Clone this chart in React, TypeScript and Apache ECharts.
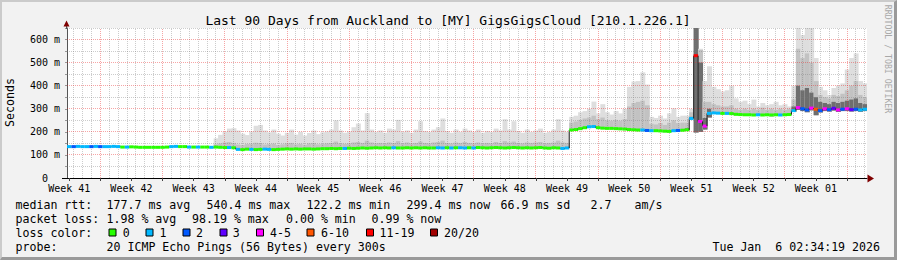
import React, { useEffect, useRef } from 'react';
import * as echarts from 'echarts';

const FONT = '"DejaVu Sans Mono", "Liberation Mono", monospace';
const BIN_DAYS = 0.5;
const TOTAL_DAYS = 90;
const Y_MAX = 650;
const Y_STEP = 50;
const FIRST_LABEL_DAY = 0.25;
const FIRST_WEEK_LINE = 3.75;
const FIRST_DAY_LINE = 0.75;

const weekLabels = ['Week 41', 'Week 42', 'Week 43', 'Week 44', 'Week 45', 'Week 46', 'Week 47',
  'Week 48', 'Week 49', 'Week 50', 'Week 51', 'Week 52', 'Week 01'];

const lossLabels = ['0', '1', '2', '3', '4-5', '6-10', '11-19', '20/20'];
const lossColors = ['#26ff00', '#00b8ff', '#0059ff', '#5e00ff', '#ff00ff', '#ff5500', '#ff0000', '#a10000'];

// median rtt (ms), one value per half-day bin (180 bins)
const median = [
  136, 136, 137, 136, 136, 136, 137, 136, 136, 136, 137, 136,
  134, 134, 135, 134,
  133, 133, 133, 133, 133, 133, 134,
  136, 137, 136, 136,
  134, 134, 134, 134, 134, 133, 134,
  133, 132, 132, 131,
  124, 123, 125, 124, 123, 124, 125, 124, 123, 124,
  125, 126, 125, 126, 125, 126, 126, 125, 126, 127,
  127, 128, 127, 128, 128, 129, 128, 129, 130, 129, 130, 131,
  130, 131, 130, 131, 130, 130, 131, 130, 131, 130, 131, 130, 130, 131, 130, 131, 130, 131, 131, 130,
  131, 130, 132, 131, 130, 131, 132, 131, 130, 131, 132, 131, 130, 131, 130, 131, 132, 130, 129, 131, 130, 128, 130,
  208, 210, 214, 218, 222, 223,
  218, 216, 215, 215, 214, 213, 212,
  210, 209, 208, 208, 206,
  205, 205, 204, 203, 202, 205, 206, 207,
  209, 258, 530, 245, 225, 280,
  282, 281, 280, 280, 279,
  276, 275, 274, 274, 273, 274, 273, 274, 273, 274, 273, 274, 275,
  292,
  305, 300, 295, 303, 298, 292, 300, 296, 302, 295, 298, 300, 296, 298, 295, 298,
];

// loss class index per bin (index into lossLabels / lossColors)
const lossClass = [
  1, 2, 1, 1, 1, 2, 1, 2, 1, 1, 1, 1,
  0, 1, 0, 0,
  0, 0, 0, 0, 0, 0, 0,
  1, 1, 0, 0,
  1, 0, 1, 0, 0, 1, 0,
  0, 0, 1, 0,
  1, 0, 0, 1, 0, 0, 1, 1, 0, 0,
  0, 0, 0, 0, 0, 0, 0, 0, 0, 0,
  0, 0, 0, 0, 1, 0, 0, 0, 0, 0, 0, 0,
  0, 0, 0, 1, 0, 0, 0, 0, 0, 0, 0, 0, 0, 1, 1, 0, 1, 0, 1, 1,
  0, 1, 0, 0, 0, 0, 0, 0, 0, 0, 0, 0, 0, 0, 0, 0, 0, 0, 0, 0, 0, 1, 1,
  0, 0, 0, 0, 1, 1,
  0, 0, 0, 0, 0, 0, 0,
  0, 0, 0, 1, 2,
  1, 0, 0, 0, 0, 1, 2, 0,
  0, 1, 6, 4, 4, 1,
  1, 1, 0, 1, 0,
  0, 0, 0, 0, 0, 1, 0, 0, 0, 0, 1, 0, 0,
  1,
  4, 2, 2, 4, 5, 2, 4, 2, 3, 4, 2, 4, 3, 2, 1, 1,
];

// smoke bottom (fastest ping) per bin
const smokeLow = [
  134, 134, 135, 134, 134, 134, 135, 134, 134, 134, 135, 134,
  132, 132, 133, 132,
  131, 131, 131, 131, 131, 131, 132,
  134, 135, 134, 134,
  132, 132, 132, 132, 132, 131, 132,
  131, 130, 130, 129,
  121, 120, 122, 121, 120, 121, 122, 121, 120, 121,
  122, 123, 122, 123, 122, 123, 123, 122, 123, 124,
  124, 125, 124, 125, 125, 126, 125, 126, 127, 126, 127, 128,
  127, 128, 127, 128, 127, 127, 128, 127, 128, 127, 128, 127, 127, 128, 127, 128, 127, 128, 128, 127,
  128, 127, 129, 128, 127, 128, 129, 128, 127, 128, 129, 128, 127, 128, 127, 128, 129, 127, 126, 128, 127, 125, 127,
  205, 207, 211, 215, 219, 220,
  215, 213, 212, 212, 211, 210, 209,
  205, 204, 203, 203, 201,
  202, 202, 201, 198, 198, 202, 203, 204,
  206, 255, 197, 200, 210, 262,
  278, 277, 276, 276, 275,
  272, 271, 270, 270, 269, 270, 269, 270, 266, 270, 269, 270, 271,
  286,
  295, 290, 285, 293, 272, 284, 290, 288, 292, 286, 290, 290, 288, 290, 287, 290,
];

// top of light smoke (slowest ping) per bin
const smokeHigh = [
  140, 140, 141, 140, 140, 140, 141, 140, 140, 140, 141, 140,
  138, 138, 139, 138,
  137, 137, 137, 137, 137, 137, 138,
  140, 141, 140, 140,
  138, 138, 138, 138, 138, 137, 172,
  187, 201, 214, 216,
  206, 192, 186, 202, 226, 230, 206, 198, 210, 192,
  184, 196, 210, 188, 200, 184, 195, 206, 190, 198,
  202, 210, 250, 206, 196, 202, 220, 236, 206, 281, 210, 200,
  206, 196, 214, 210, 252, 200, 206, 196, 210, 246, 204, 200, 210, 220, 258, 204, 196, 210, 200, 214,
  206, 200, 210, 196, 204, 200, 214, 206, 255, 210, 246, 204, 196, 210, 200, 206, 214, 196, 200, 210, 255, 206, 200,
  265, 270, 285, 290, 300, 331,
  280, 320, 285, 275, 290, 280, 300,
  395, 418, 420, 458, 405,
  265, 260, 270, 258, 280, 302, 265, 270,
  270, 300, 650, 560, 420, 484,
  395, 385, 375, 380, 400,
  345, 330, 335, 320, 340, 310, 325, 315, 320, 330, 315, 320, 310,
  400,
  650, 620, 650, 650, 520, 395, 380, 360, 390, 400, 410, 470, 520, 540, 420, 410,
];

// top of the medium-grey smoke band per bin
const smokeMid = [
  137, 137, 138, 137, 137, 137, 138, 137, 137, 137, 138, 137,
  135, 135, 136, 135,
  134, 134, 134, 134, 134, 134, 135,
  137, 138, 137, 137,
  135, 135, 135, 135, 135, 134, 146,
  150, 154, 156, 152,
  145, 143, 147, 149, 153, 151, 145, 147, 149, 143,
  146, 150, 152, 146, 148, 144, 150, 152, 146, 148,
  150, 152, 158, 150, 148, 150, 154, 156, 152, 162, 154, 150,
  152, 150, 154, 152, 160, 150, 154, 150, 152, 158, 152, 150, 154, 156, 162, 152, 150, 154, 152, 156,
  152, 150, 154, 150, 152, 150, 156, 152, 160, 154, 158, 152, 150, 154, 152, 154, 156, 150, 152, 154, 162, 154, 152,
  240, 245, 252, 258, 262, 270,
  255, 262, 250, 248, 252, 248, 255,
  310, 325, 330, 335, 315,
  235, 232, 238, 230, 240, 250, 238, 240,
  240, 285, 650, 555, 330, 330,
  320, 315, 310, 310, 315,
  300, 295, 300, 295, 300, 295, 305, 295, 300, 295, 300, 295, 300,
  340,
  560, 520, 540, 500, 420, 360, 350, 345, 360, 355, 365, 380, 400, 420, 360, 350,
];

// top of the dark smoke core per bin (0 = no dark core)
const smokeCore = [
  0, 0, 0, 0, 0, 0, 0, 0, 0, 0, 0, 0,
  0, 0, 0, 0,
  0, 0, 0, 0, 0, 0, 0,
  0, 0, 0, 0,
  0, 0, 0, 0, 0, 0, 0,
  0, 0, 0, 0,
  0, 0, 0, 0, 0, 0, 0, 0, 0, 0,
  0, 0, 0, 0, 0, 0, 0, 0, 0, 0,
  0, 0, 0, 0, 0, 0, 0, 0, 0, 0, 0, 0,
  0, 0, 0, 0, 0, 0, 0, 0, 0, 0, 0, 0, 0, 0, 0, 0, 0, 0, 0, 0,
  0, 0, 0, 0, 0, 0, 0, 0, 0, 0, 0, 0, 0, 0, 0, 0, 0, 0, 0, 0, 0, 0, 0,
  0, 0, 0, 0, 0, 0,
  0, 0, 0, 0, 0, 0, 0,
  0, 0, 0, 0, 0,
  0, 0, 0, 0, 0, 0, 0, 0,
  215, 265, 650, 500, 260, 300,
  0, 0, 0, 0, 0,
  0, 0, 0, 0, 0, 0, 0, 0, 0, 0, 0, 0, 0,
  310,
  400, 380, 390, 370, 350, 330, 325, 320, 330, 325, 330, 335, 340, 345, 325, 320,
];

const rttStats = ['177.7 ms avg', '540.4 ms max', '122.2 ms min', '299.4 ms now', '66.9 ms sd', '2.7', 'am/s'];
const lossStats = ['1.98 % avg', '98.19 % max', '0.00 % min', '0.99 % now'];
const probeText = '20 ICMP Echo Pings (56 Bytes) every 300s';
const dateText = 'Tue Jan \u00a06 02:34:19 2026';
const titleText = 'Last 90 Days from Auckland to [MY] GigsGigsCloud [210.1.226.1]';

export default function App() {
  const ref = useRef<HTMLDivElement>(null);

  useEffect(() => {
    if (!ref.current) return;
    const chart = echarts.init(ref.current, null, { renderer: 'svg' });

    const labelDays = weekLabels.map((_, i) => FIRST_LABEL_DAY + i * 7);
    const majorDays: number[] = [];
    for (let d = FIRST_WEEK_LINE; d < TOTAL_DAYS; d += 7) majorDays.push(d);
    const tickDays = [...labelDays, ...majorDays].sort((a, b) => a - b);

    const gridRows: number[][] = [];
    for (let d = FIRST_DAY_LINE; d < TOTAL_DAYS; d += 1) {
      const isMajor = majorDays.some((m) => Math.abs(m - d) < 1e-6);
      gridRows.push([d, 0, isMajor ? 1 : 0]);
    }
    for (let v = Y_STEP; v <= Y_MAX; v += Y_STEP) gridRows.push([0, v, v % 100 === 0 ? 3 : 2]);

    const smokeData = smokeHigh.map((h, i) => [i * BIN_DAYS, smokeLow[i], smokeMid[i], h, smokeCore[i]]);
    const medianData = median.map((m, i) => [i * BIN_DAYS, m, i > 0 ? median[i - 1] : m, lossClass[i]]);

    const txt = (x: number, y: number, s: string, extra: any = {}) => ({
      type: 'text', x, y, silent: true, z: 50,
      style: { text: s, fontFamily: FONT, fontSize: 11.6, fill: '#000', align: 'left', verticalAlign: 'middle', ...extra },
    });

    const rttX = [106.5, 206.5, 306.5, 406.5, 500.5, 590.5, 634.5];
    const lossX = [106.5, 192, 286, 371.5];
    const boxX = [109, 146, 183, 220, 256.5, 307, 366.5, 430.5];
    const boxTextX = [122.7, 159.5, 196, 232.7, 270, 321, 379.5, 444];
    const rows = [205, 219.3, 233.3, 247];

    const graphics: any[] = [
      txt(448, 20, titleText, { fontSize: 13, align: 'center' }),
      { type: 'text', x: 10, y: 102.5, rotation: Math.PI / 2, silent: true, z: 50,
        style: { text: 'Seconds', fontFamily: FONT, fontSize: 11.6, fill: '#000', align: 'center', verticalAlign: 'middle' } },
      { type: 'text', x: 888, y: 59, rotation: -Math.PI / 2, silent: true, z: 50,
        style: { text: 'RRDTOOL / TOBI OETIKER', fontFamily: FONT, fontSize: 8.2, fill: '#a8a8a8', align: 'center', verticalAlign: 'middle' } },
      txt(15.5, rows[0], 'median rtt:'),
      ...rttStats.map((s, i) => txt(rttX[i], rows[0], s)),
      txt(15.5, rows[1], 'packet loss:'),
      ...lossStats.map((s, i) => txt(lossX[i], rows[1], s)),
      txt(15.5, rows[2], 'loss color:'),
      ...lossLabels.map((s, i) => txt(boxTextX[i], rows[2], s)),
      ...lossColors.map((c, i) => ({
        type: 'rect', silent: true, z: 50,
        shape: { x: boxX[i], y: 229, width: 7, height: 7 },
        style: { fill: c, stroke: '#000', lineWidth: 1 },
      })),
      txt(15.5, rows[3], 'probe:'),
      txt(106.5, rows[3], probeText),
      txt(880, rows[3], dateText, { align: 'right' }),
      { type: 'line', silent: true, z: 60, shape: { x1: 62, y1: 178.5, x2: 67, y2: 178.5 }, style: { stroke: '#000', lineWidth: 1 } },
      { type: 'line', silent: true, z: 60, shape: { x1: 66.5, y1: 29, x2: 66.5, y2: 24 }, style: { stroke: '#555', lineWidth: 1 } },
      { type: 'polygon', silent: true, z: 60, shape: { points: [[63.5, 26.5], [66.5, 20.5], [69.5, 26.5]] }, style: { fill: '#7f0000' } },
      { type: 'polygon', silent: true, z: 60, shape: { points: [[867.5, 174.5], [874, 178.5], [867.5, 182.5]] }, style: { fill: '#7f0000' } },
    ];

    const option: any = {
      animation: false,
      textStyle: { fontFamily: FONT },
      grid: { left: 67, top: 28, width: 800, height: 150, show: true, backgroundColor: '#ffffff', borderWidth: 0 },
      xAxis: {
        type: 'value', min: 0, max: TOTAL_DAYS,
        axisLine: { show: true, lineStyle: { color: '#000', width: 1 } },
        axisTick: { show: true, customValues: tickDays, length: 3, lineStyle: { color: '#444' } },
        axisLabel: {
          show: true, customValues: labelDays, margin: 5,
          fontFamily: FONT, fontSize: 10, color: '#000',
          formatter: (v: number) => {
            let best = 0;
            labelDays.forEach((d, i) => { if (Math.abs(d - v) < Math.abs(labelDays[best] - v)) best = i; });
            return weekLabels[best];
          },
        },
        splitLine: { show: false },
      },
      yAxis: {
        type: 'value', min: 0, max: Y_MAX, interval: Y_STEP,
        axisLine: { show: true, lineStyle: { color: '#555', width: 1 } },
        axisTick: { show: true, length: 2, lineStyle: { color: '#999' } },
        axisLabel: {
          margin: 7, fontFamily: FONT, fontSize: 10, color: '#000',
          formatter: (v: number) => (v % 100 !== 0 ? '' : v === 0 ? '0\u00a0\u00a0' : `${v} m`),
        },
        splitLine: { show: false },
      },
      graphic: graphics,
      series: [
        {
          type: 'custom', z: 2, silent: true, clip: true,
          data: smokeData,
          encode: { x: 0, y: [1, 3] },
          renderItem: (_p: any, api: any) => {
            const d0 = api.value(0);
            const d1 = d0 + BIN_DAYS;
            const lo = api.value(1);
            const mid = api.value(2);
            const hi = api.value(3);
            const core = api.value(4);
            const band = (top: number, fill: string) => {
              const a = api.coord([d0, lo]);
              const b = api.coord([d1, Math.min(top, Y_MAX)]);
              return { type: 'rect', shape: { x: a[0], y: b[1], width: b[0] - a[0] + 0.5, height: a[1] - b[1] }, style: { fill } };
            };
            const children: any[] = [band(hi, '#dedede')];
            if (mid > lo) children.push(band(mid, '#c2c2c2'));
            if (core > lo) children.push(band(core, '#6e6e6e'));
            return { type: 'group', children };
          },
        },
        {
          type: 'custom', z: 3, silent: true, clip: true,
          data: gridRows,
          encode: { x: 0, y: 1 },
          renderItem: (_p: any, api: any) => {
            const kind = api.value(2);
            let shape: any;
            if (kind < 2) {
              const a = api.coord([api.value(0), 0]);
              const b = api.coord([api.value(0), Y_MAX]);
              const x = Math.floor(a[0]) + 0.5;
              shape = { x1: x, y1: a[1], x2: x, y2: b[1] };
            } else {
              const a = api.coord([0, api.value(1)]);
              const b = api.coord([TOTAL_DAYS, api.value(1)]);
              const y = Math.floor(a[1]) + 0.5;
              shape = { x1: a[0], y1: y, x2: b[0], y2: y };
            }
            const major = kind === 1 || kind === 3;
            return {
              type: 'line', shape,
              style: { stroke: major ? 'rgba(233,40,40,0.42)' : 'rgba(120,120,120,0.38)', lineWidth: 1, lineDash: [1, 1] },
            };
          },
        },
        {
          type: 'custom', z: 4, silent: true, clip: true,
          data: medianData,
          encode: { x: 0, y: 1 },
          renderItem: (_p: any, api: any) => {
            const d0 = api.value(0);
            const d1 = d0 + BIN_DAYS;
            const m = api.value(1);
            const prev = api.value(2);
            const cls = api.value(3);
            const a = api.coord([d0, m]);
            const b = api.coord([d1, m]);
            const p = api.coord([d0, prev]);
            return {
              type: 'group',
              children: [
                { type: 'line', shape: { x1: p[0], y1: p[1], x2: a[0], y2: a[1] }, style: { stroke: '#202020', lineWidth: 1 } },
                { type: 'line', shape: { x1: a[0], y1: a[1], x2: b[0], y2: b[1] }, style: { stroke: lossColors[cls], lineWidth: 3 } },
              ],
            };
          },
        },
      ],
    };

    chart.setOption(option);
    return () => chart.dispose();
  }, []);

  return (
    <div style={{ position: 'fixed', left: 0, top: 0, width: 897, height: 260, background: '#f2f2f2' }}>
      <div ref={ref} style={{ position: 'absolute', left: 0, top: 0, width: 897, height: 260 }} />
      <div
        style={{
          position: 'absolute', left: 0, top: 0, width: 897, height: 260, boxSizing: 'border-box',
          borderTop: '2px solid #cbcbcb', borderLeft: '2px solid #cbcbcb',
          borderRight: '3px solid #9a9a9a', borderBottom: '3px solid #9a9a9a', pointerEvents: 'none',
        }}
      />
    </div>
  );
}
